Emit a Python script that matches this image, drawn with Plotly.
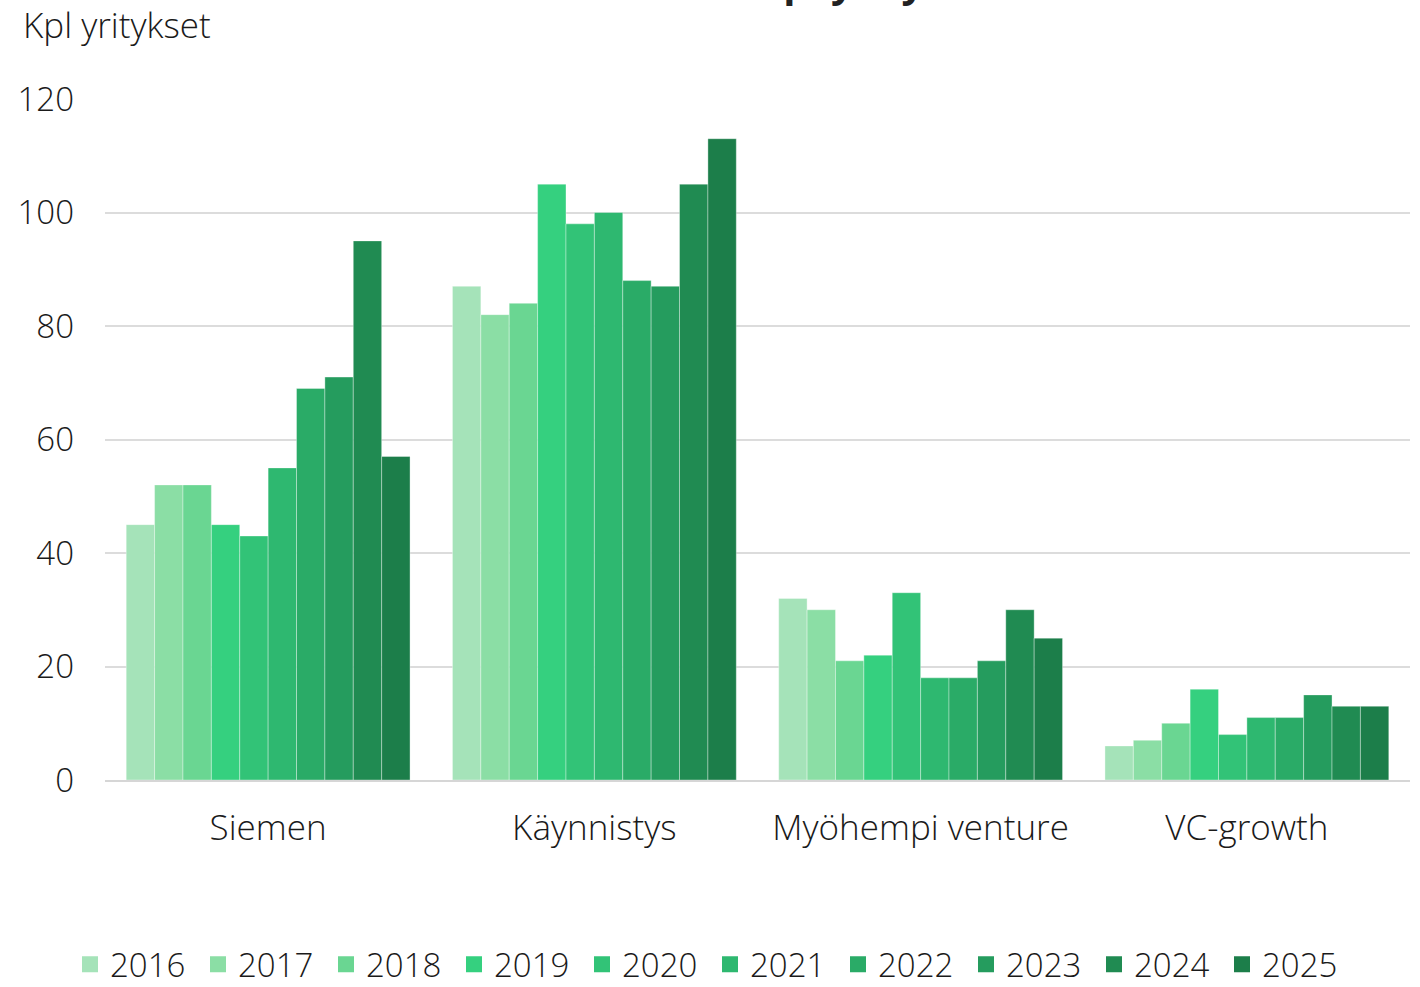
import plotly.graph_objects as go

CATEGORIES = ["Siemen", "Käynnistys", "Myöhempi venture", "VC-growth"]
YEARS = ["2016", "2017", "2018", "2019", "2020", "2021", "2022", "2023", "2024", "2025"]

# values per year, in category order
V2016 = [45, 87, 32, 6]
V2017 = [52, 82, 30, 7]
V2018 = [52, 84, 21, 10]
V2019 = [45, 105, 22, 16]
V2020 = [43, 98, 33, 8]
V2021 = [55, 100, 18, 11]
V2022 = [69, 88, 18, 11]
V2023 = [71, 87, 21, 15]
V2024 = [95, 105, 30, 13]
V2025 = [57, 113, 25, 13]
SERIES = [V2016, V2017, V2018, V2019, V2020, V2021, V2022, V2023, V2024, V2025]

COLORS = ["#a5e3b9", "#8bdea5", "#6ad692", "#35d07f", "#32c377",
          "#2eb870", "#2aab67", "#259c5e", "#208b52", "#1c7e4a"]

FONT = "'Open Sans', sans-serif"

fig = go.Figure()
for year, vals, col in zip(YEARS, SERIES, COLORS):
    fig.add_trace(go.Bar(
        x=CATEGORIES, y=vals, name=year, showlegend=False,
        marker=dict(color=col, line=dict(color="rgba(255,255,255,0.35)", width=1)),
    ))
# legend entries with bigger square swatches
for year, col in zip(YEARS, COLORS):
    fig.add_trace(go.Scatter(
        x=[None], y=[None], name=year, mode="markers",
        marker=dict(symbol="square", size=20, color=col),
    ))

fig.update_layout(
    width=1420, height=987,
    barmode="group", bargap=0.13, bargroupgap=0,
    paper_bgcolor="white", plot_bgcolor="white",
    font=dict(family=FONT, size=33, color="#1a1a1a", weight=300),
    margin=dict(l=105, r=10, t=99, b=207, autoexpand=False),
    xaxis=dict(
        showgrid=False, showline=True, linecolor="#d6d6d6", linewidth=2,
        ticks="", ticklabelstandoff=16, tickfont=dict(size=35),
    ),
    yaxis=dict(
        range=[0, 120], dtick=20, showgrid=True, gridcolor="#dcdcdc", gridwidth=2,
        zeroline=False, showline=False, ticks="", ticklabelstandoff=30,
    ),
    legend=dict(
        orientation="h", xref="container", yref="container",
        x=0.5, xanchor="center", y=0.023, yanchor="middle",
        itemwidth=30, tracegroupgap=0,
        entrywidth=83, entrywidthmode="pixels",
    ),
    annotations=[
        dict(text="Kpl yritykset", xref="paper", yref="paper",
             x=-0.0644, y=1.1087, xanchor="left", yanchor="middle",
             showarrow=False, font=dict(size=35)),
        dict(text="<b>Rahoitusvaiheittain kpl yritykset</b>", xref="paper", yref="paper",
             x=0.695, y=1.1292, xanchor="right", yanchor="bottom",
             showarrow=False, font=dict(size=40, color="#222", weight=700)),
    ],
)

fig.write_html("out.html", config={"displayModeBar": False},
               post_script="document.body.style.margin='0';")
